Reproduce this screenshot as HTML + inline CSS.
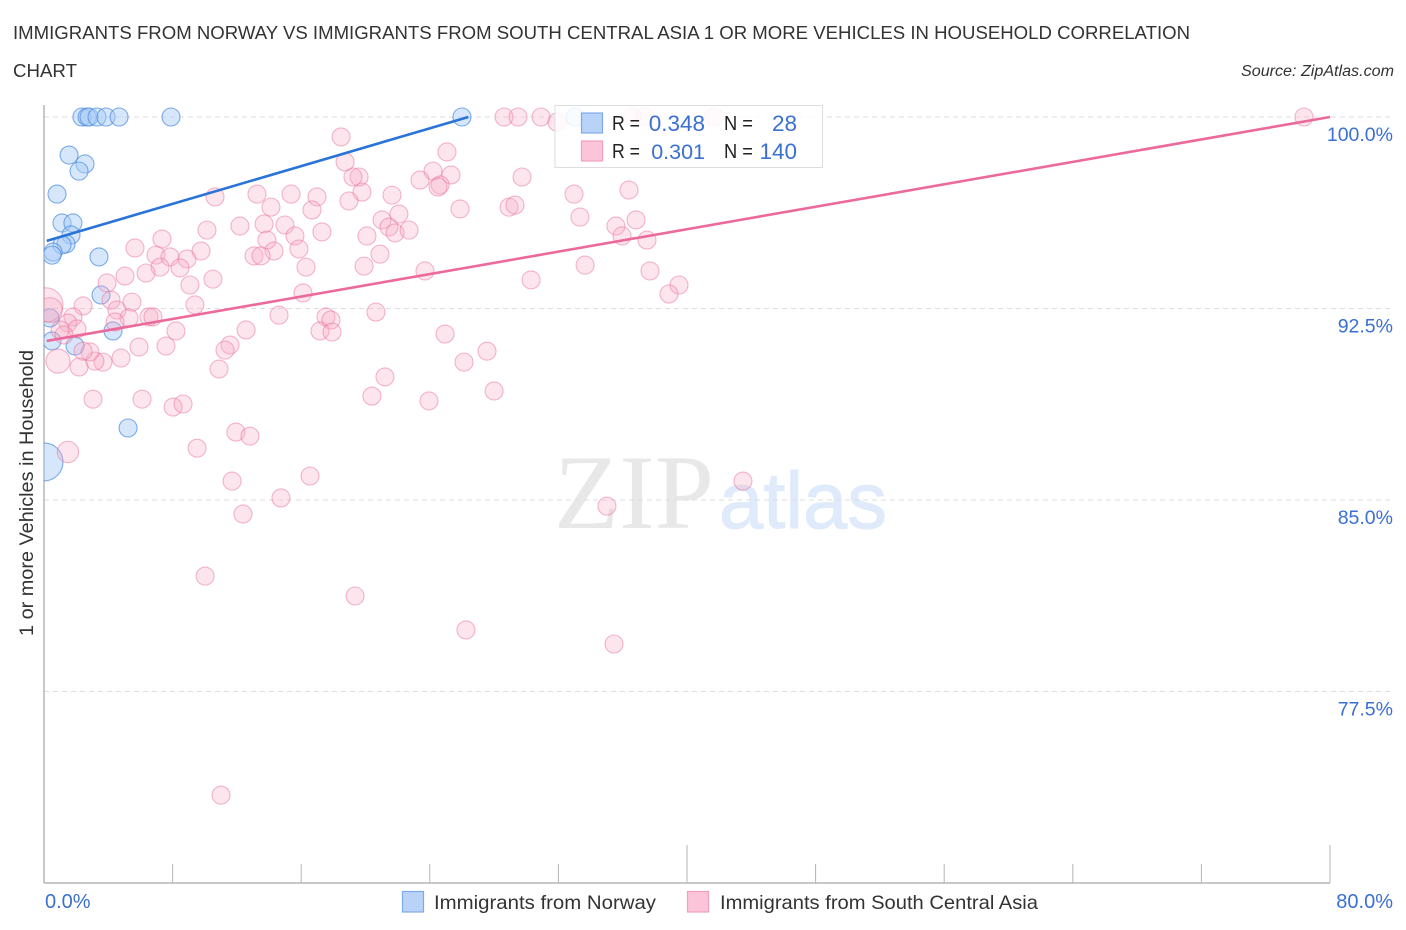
<!DOCTYPE html>
<html>
<head>
<meta charset="utf-8">
<title>Immigrants from Norway vs Immigrants from South Central Asia</title>
<style>
html,body{margin:0;padding:0;background:#fff;}
svg{display:block;font-family:"Liberation Sans",sans-serif;}
</style>
</head>
<body>
<svg id="chart" width="1406" height="930" viewBox="0 0 1406 930" xmlns="http://www.w3.org/2000/svg">
  <defs>
    <clipPath id="plot-clip"><rect x="44" y="0" width="1362" height="883"></rect></clipPath>
  </defs>
  <rect x="0" y="0" width="1406" height="930" fill="#ffffff"></rect>
  <text x="13" y="39" font-size="18.5" fill="#333333" textLength="1177" lengthAdjust="spacingAndGlyphs">IMMIGRANTS FROM NORWAY VS IMMIGRANTS FROM SOUTH CENTRAL ASIA 1 OR MORE VEHICLES IN HOUSEHOLD CORRELATION</text>
  <text x="13" y="77" font-size="18.5" fill="#333333" textLength="64" lengthAdjust="spacingAndGlyphs">CHART</text>
  <text x="1241" y="76" font-size="15.5" font-style="italic" fill="#333333" textLength="153" lengthAdjust="spacingAndGlyphs">Source: ZipAtlas.com</text>
  <text x="554" y="528" font-family="'Liberation Serif',serif" font-size="106" fill="#e8e8e8" textLength="160" lengthAdjust="spacingAndGlyphs">ZIP</text>
  <text x="719" y="528" font-size="80" fill="#dfeafa" stroke="#dfeafa" stroke-width="1" textLength="168" lengthAdjust="spacingAndGlyphs">atlas</text>
  <g id="grid-layer"></g>
  <g id="axis-layer"></g>
  <g id="norway-layer" clip-path="url(#plot-clip)"></g>
  <g id="asia-layer" clip-path="url(#plot-clip)"></g>
  <g id="trend-layer"></g>
  <g>
    <rect x="555" y="105.500" width="267.500" height="62" fill="#ffffff" fill-opacity="0.85" stroke="#dddddd" stroke-width="1"></rect>
    <rect x="581.500" y="113" width="21" height="20" fill="#b9d3f8" stroke="#7eaae9" stroke-width="1.200"></rect>
    <rect x="581.500" y="141" width="21" height="20" fill="#fcc4d8" stroke="#f2a0bf" stroke-width="1.200"></rect>
    <g font-size="20" fill="#222222">
      <text x="612" y="130" textLength="28" lengthAdjust="spacingAndGlyphs">R =</text>
      <text x="724" y="130" textLength="29" lengthAdjust="spacingAndGlyphs">N =</text>
      <text x="612" y="158" textLength="28" lengthAdjust="spacingAndGlyphs">R =</text>
      <text x="724" y="158" textLength="29" lengthAdjust="spacingAndGlyphs">N =</text>
    </g>
    <g font-size="22.500" fill="#3a6fd3" text-anchor="end">
      <text x="705" y="131">0.348</text>
      <text x="797" y="131">28</text>
      <text x="705" y="159" font-size="21.500">0.301</text>
      <text x="797" y="159">140</text>
    </g>
  </g>
  <g id="y-label-layer" font-size="19.500" fill="#3a6fd3" text-anchor="end"></g>
  <text x="45" y="908" font-size="20" fill="#3a6fd3">0.0%</text>
  <text x="1393" y="908" font-size="20" fill="#3a6fd3" text-anchor="end">80.0%</text>
  <text transform="translate(33,636) rotate(-90)" font-size="19" fill="#333333" textLength="286" lengthAdjust="spacingAndGlyphs">1 or more Vehicles in Household</text>
  <g>
    <rect x="402.500" y="891.500" width="21" height="20.500" fill="#b9d3f8" stroke="#7eaae9" stroke-width="1.200"></rect>
    <text x="434" y="909" font-size="19.500" fill="#333333" textLength="222" lengthAdjust="spacingAndGlyphs">Immigrants from Norway</text>
    <rect x="687.500" y="891.500" width="21" height="20.500" fill="#fcc4d8" stroke="#f2a0bf" stroke-width="1.200"></rect>
    <text x="720" y="909" font-size="19.500" fill="#333333" textLength="318" lengthAdjust="spacingAndGlyphs">Immigrants from South Central Asia</text>
  </g>
</svg>
<script>
// ---- chart data ----
var yTicks = [100, 92.5, 85, 77.5];
var yTickLabels = ["100.0%", "92.5%", "85.0%", "77.5%"];
var xTicks = [0, 8, 16, 24, 32, 40, 48, 56, 64, 72, 80];
var xMajorTicks = [40, 80];

var norwayX = [0.00,2.36,2.68,2.80,3.30,3.86,4.67,7.90,26.00,33.03,1.56,2.55,2.18,0.81,1.12,1.80,1.68,1.37,1.12,0.56,0.50,3.42,3.55,0.37,4.29,0.50,1.93,5.23];
var norwayY = [86.49,100,100,100,100,100,100,100,100,100,98.51,98.16,97.88,96.98,95.85,95.85,95.38,95.03,94.99,94.71,94.59,94.52,93.03,92.13,91.62,91.23,91.03,87.82];
// relative bubble weight of the leading points; all others weigh 1
var norwayWeight = [4.46];

var asiaX = [0.12,0.37,0.87,1.49,28.62,29.49,30.92,31.91,36.58,37.39,41.68,78.38,25.07,24.20,25.32,23.39,24.64,24.51,25.88,29.74,32.97,36.39,28.93,29.30,33.34,35.58,36.83,35.96,37.51,33.66,37.70,39.50,38.88,30.30,23.70,21.65,19.78,19.60,19.22,18.73,18.48,18.97,22.08,21.03,21.46,21.84,22.71,20.09,20.90,19.91,20.65,24.95,27.56,26.13,21.21,28.00,20.40,23.95,10.64,13.25,15.37,14.12,16.98,16.67,14.99,13.69,12.19,10.14,17.29,15.61,13.87,15.86,14.31,13.06,13.50,16.30,16.11,7.34,5.66,6.97,7.84,8.90,9.77,7.22,8.46,6.35,5.04,3.92,9.08,10.51,9.39,5.47,4.17,4.54,2.43,5.29,4.42,6.53,6.78,1.80,1.49,2.05,1.00,8.21,12.57,14.62,17.54,17.85,17.17,17.92,11.57,11.26,7.59,5.91,10.89,4.79,3.67,3.17,2.86,2.43,2.18,3.05,6.10,8.03,8.65,9.52,11.94,12.81,11.70,12.38,14.74,16.55,10.02,19.35,26.25,35.46,11.01,35.02,43.48,1.24];
var asiaY = [92.64,92.44,90.44,86.88,100,100,100,99.80,100,100,100,100,98.63,97.88,97.73,97.53,97.34,97.26,96.40,97.65,96.98,97.14,96.47,96.55,96.08,95.73,95.97,95.34,95.18,94.20,93.97,93.42,93.07,93.62,93.97,96.94,97.06,97.65,97.65,98.24,99.22,96.71,96.20,95.97,95.69,95.46,95.57,95.34,94.63,94.16,92.36,91.50,90.83,90.40,89.82,89.27,89.07,88.88,96.87,96.98,96.98,96.47,96.87,96.36,95.77,95.81,95.73,95.57,95.50,95.34,95.18,94.83,94.75,94.56,94.56,94.12,93.11,95.22,94.87,94.59,94.52,94.44,94.75,94.12,94.09,93.89,93.77,93.50,93.42,93.65,92.64,92.75,92.83,92.44,92.60,92.13,91.97,92.17,92.17,92.17,91.93,91.70,91.66,91.62,91.66,92.24,92.17,92.05,91.62,91.58,91.07,90.87,91.03,90.99,90.13,90.56,90.40,90.44,90.80,90.83,90.21,88.95,88.95,88.64,88.76,87.03,87.66,87.50,85.74,84.45,85.08,85.94,82.02,81.24,79.91,79.36,73.44,84.76,85.74,91.46];
// relative bubble weight of the leading points; all others weigh 1
var asiaWeight = [3.6, 1.9, 1.8, 1.4];

var norwayTrendX = [0.17, 26.4];
var norwayTrendY = [95.15, 100];
var asiaTrendX = [0.17, 80];
var asiaTrendY = [91.23, 100];

// ---- axis functions ----
function xScale(v) { return 44 + (v / 80) * 1286; }
function yScale(v) { return 117 + ((100 - v) / 7.5) * 191.5; }
function rScale(w) { return 9 * Math.sqrt(w); }

var NS = "http://www.w3.org/2000/svg";

function drawGrid() {
  var g = document.getElementById("grid-layer");
  yTicks.forEach(function (t) {
    var el = document.createElementNS(NS, "line");
    el.setAttribute("x1", 44);
    el.setAttribute("x2", 1394);
    el.setAttribute("y1", yScale(t));
    el.setAttribute("y2", yScale(t));
    el.setAttribute("stroke", "#dedede");
    el.setAttribute("stroke-width", 1);
    el.setAttribute("stroke-dasharray", "5 4");
    
    
    g.appendChild(el);
  });
  var labels = document.getElementById("y-label-layer");
  yTicks.forEach(function (t, i) {
    var el = document.createElementNS(NS, "text");
    el.setAttribute("x", 1393);
    el.setAttribute("y", yScale(t) + 24);
    el.textContent = yTickLabels[i];
    
    
    labels.appendChild(el);
  });
}

function drawAxes() {
  var g = document.getElementById("axis-layer");
  var yAxis = document.createElementNS(NS, "line");
  yAxis.setAttribute("x1", 44);
  yAxis.setAttribute("x2", 44);
  yAxis.setAttribute("y1", 105);
  yAxis.setAttribute("y2", 883);
  yAxis.setAttribute("stroke", "#b5b5b5");
  yAxis.setAttribute("stroke-width", 1.5);
  
  
  g.appendChild(yAxis);

  var xAxis = document.createElementNS(NS, "line");
  xAxis.setAttribute("x1", 44);
  xAxis.setAttribute("x2", 1330);
  xAxis.setAttribute("y1", 883);
  xAxis.setAttribute("y2", 883);
  xAxis.setAttribute("stroke", "#b5b5b5");
  xAxis.setAttribute("stroke-width", 1.5);
  
  
  g.appendChild(xAxis);

  xTicks.forEach(function (t) {
    if (t === 0) return;
    var tall = xMajorTicks.indexOf(t) >= 0;
    var el = document.createElementNS(NS, "line");
    el.setAttribute("x1", xScale(t));
    el.setAttribute("x2", xScale(t));
    el.setAttribute("y1", tall ? 845 : 864);
    el.setAttribute("y2", 883);
    el.setAttribute("stroke", "#b5b5b5");
    el.setAttribute("stroke-width", 1);
    
    
    g.appendChild(el);
  });
}

function drawPoints(layerId, xs, ys, weights, fill, fillOpacity, stroke, strokeOpacity, pointName) {
  var g = document.getElementById(layerId);
  xs.forEach(function (x, i) {
    var el = document.createElementNS(NS, "circle");
    el.setAttribute("cx", xScale(x));
    el.setAttribute("cy", yScale(ys[i]));
    el.setAttribute("r", rScale(weights[i] || 1));
    el.setAttribute("fill", fill);
    el.setAttribute("fill-opacity", fillOpacity);
    el.setAttribute("stroke", stroke);
    el.setAttribute("stroke-opacity", strokeOpacity);
    el.setAttribute("stroke-width", 1.1);
    
    
    g.appendChild(el);
  });
}

function drawTrend(xs, ys, color, lineName) {
  var g = document.getElementById("trend-layer");
  var el = document.createElementNS(NS, "line");
  el.setAttribute("x1", xScale(xs[0]));
  el.setAttribute("y1", yScale(ys[0]));
  el.setAttribute("x2", xScale(xs[1]));
  el.setAttribute("y2", yScale(ys[1]));
  el.setAttribute("stroke", color);
  el.setAttribute("stroke-width", 2.6);
  
  
  g.appendChild(el);
}

drawGrid();
drawAxes();
drawPoints("norway-layer", norwayX, norwayY, norwayWeight, "#a6c9f6", 0.45, "#4a8ae0", 0.7, "norway-point");
drawPoints("asia-layer", asiaX, asiaY, asiaWeight, "#f9a8c4", 0.3, "#e8709a", 0.5, "asia-point");
drawTrend(norwayTrendX, norwayTrendY, "#2a74d8", "norway-trend-line");
drawTrend(asiaTrendX, asiaTrendY, "#ec6a9b", "asia-trend-line");
</script>
</body>
</html>
